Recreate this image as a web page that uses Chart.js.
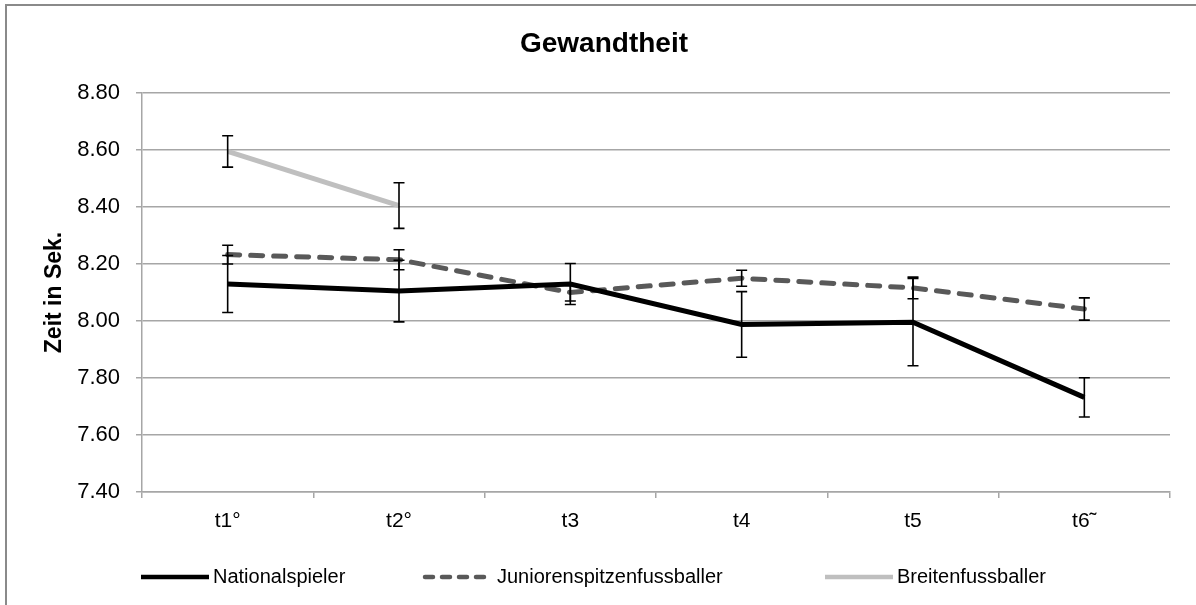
<!DOCTYPE html>
<html>
<head>
<meta charset="utf-8">
<script src="https://cdn.jsdelivr.net/npm/chart.js@4/dist/chart.umd.min.js"></script>
<style>
  html, body { margin: 0; padding: 0; background: #ffffff; }
  #wrap { width: 1196px; height: 605px; position: relative; }
</style>
</head>
<body>
<div id="wrap"><canvas id="c" width="1196" height="605"></canvas></div>
<script>
// Messzeitpunkte
const categories = ['t1°', 't2°', 't3', 't4', 't5', 't6˜'];

// Mittelwerte (Sekunden) und Standardabweichungen je Gruppe
const nationalspieler = [8.13, 8.105, 8.13, 7.988, 7.996, 7.732];
const nationalspielerSd = [0.10, 0.108, 0.072, 0.115, 0.153, 0.069];

const junioren = [8.233, 8.215, 8.10, 8.15, 8.116, 8.042];
const juniorenSd = [0.033, 0.035, 0.03, 0.028, 0.038, 0.039];

const breiten = [8.595, 8.405, null, null, null, null];
const breitenSd = [0.055, 0.08, null, null, null, null];

const yTicks = [7.40, 7.60, 7.80, 8.00, 8.20, 8.40, 8.60, 8.80];

const FONT = '"Liberation Sans", Arial, sans-serif';
const GRID = '#a6a6a6';

// Fehlerbalken (± SD) je Datensatz
const errorBars = {
  id: 'errorBars',
  afterDatasetsDraw(chart) {
    const ctx = chart.ctx;
    const x = chart.scales.x, y = chart.scales.y;
    const sets = [[nationalspieler, nationalspielerSd], [junioren, juniorenSd], [breiten, breitenSd]];
    ctx.save();
    ctx.strokeStyle = '#000000';
    ctx.lineWidth = 1.6;
    sets.forEach(([vals, sds]) => {
      vals.forEach((v, i) => {
        if (v == null || sds[i] == null) return;
        const px = x.getPixelForValue(i);
        const top = y.getPixelForValue(v + sds[i]);
        const bot = y.getPixelForValue(v - sds[i]);
        ctx.beginPath();
        ctx.moveTo(px, top); ctx.lineTo(px, bot);
        ctx.moveTo(px - 5.5, top); ctx.lineTo(px + 5.5, top);
        ctx.moveTo(px - 5.5, bot); ctx.lineTo(px + 5.5, bot);
        ctx.stroke();
      });
    });
    ctx.restore();
  }
};

// Rahmen, Titel und Legende
const decorations = {
  id: 'decorations',
  beforeDraw(chart) {
    const ctx = chart.ctx;
    ctx.save();
    ctx.fillStyle = '#ffffff';
    ctx.fillRect(0, 0, chart.width, chart.height);
    ctx.strokeStyle = '#8a8a8a';
    ctx.lineWidth = 2;
    ctx.strokeRect(6, 5, chart.width + 20, chart.height + 20);
    ctx.restore();
  },
  afterDraw(chart) {
    const ctx = chart.ctx;
    ctx.save();
    ctx.fillStyle = '#000000';
    ctx.font = 'bold 28px ' + FONT;
    ctx.textAlign = 'center';
    ctx.textBaseline = 'middle';
    ctx.fillText('Gewandtheit', 604, 44);

    const items = chart.data.datasets.map((ds, i) => ({
      label: ds.label, color: ds.borderColor, dash: ds.borderDash || [], start: [139, 423, 823][i]
    }));
    const ly = 577;
    ctx.font = '20px ' + FONT;
    ctx.textAlign = 'left';
    items.forEach(it => {
      ctx.beginPath();
      ctx.strokeStyle = it.color;
      ctx.lineWidth = 4.5;
      ctx.lineCap = it.dash.length ? 'round' : 'butt';
      ctx.setLineDash(it.dash.length ? [8, 9] : []);
      ctx.moveTo(it.start + 2, ly);
      ctx.lineTo(it.start + 70, ly);
      ctx.stroke();
      ctx.setLineDash([]);
      ctx.fillStyle = '#000000';
      ctx.fillText(it.label, it.start + 74, ly);
    });
    ctx.restore();
  }
};

new Chart(document.getElementById('c'), {
  type: 'line',
  data: {
    labels: categories,
    datasets: [
      { label: 'Nationalspieler', data: nationalspieler, borderColor: '#000000', borderWidth: 5, order: 1 },
      { label: 'Juniorenspitzenfussballer', data: junioren, borderColor: '#595959', borderWidth: 5,
        borderDash: [12, 11], borderCapStyle: 'round', order: 2 },
      { label: 'Breitenfussballer', data: breiten, borderColor: '#bfbfbf', borderWidth: 5, order: 3 }
    ]
  },
  options: {
    responsive: false,
    animation: false,
    devicePixelRatio: 1,
    layout: { padding: { left: 0, top: 93, right: 26, bottom: 0 } },
    elements: { point: { radius: 0, hoverRadius: 0 }, line: { tension: 0 } },
    plugins: { legend: { display: false }, title: { display: false }, tooltip: { enabled: false } },
    scales: {
      x: {
        offset: true,
        grid: { offset: true, drawOnChartArea: false, drawTicks: true, tickLength: 6, color: GRID, lineWidth: 1.5 },
        border: { color: GRID, width: 1.5 },
        ticks: { color: '#000000', font: { family: FONT, size: 21 }, padding: 11, maxRotation: 0 },
        afterFit(s) { s.height = 113; }
      },
      y: {
        min: 7.4, max: 8.8,
        afterBuildTicks(s) { s.ticks = yTicks.map(v => ({ value: v })); },
        grid: { color: GRID, lineWidth: 1.5, tickLength: 6 },
        border: { color: GRID, width: 1.5 },
        ticks: { color: '#000000', font: { family: FONT, size: 22 }, padding: 16,
                 callback: v => Number(v).toFixed(2) },
        title: { display: true, text: 'Zeit in Sek.', color: '#000000',
                 font: { family: FONT, size: 23, weight: 'bold' }, padding: { top: 41, bottom: 0 } },
        afterFit(s) { s.width = 142; }
      }
    }
  },
  plugins: [decorations, errorBars]
});
</script>
</body>
</html>
